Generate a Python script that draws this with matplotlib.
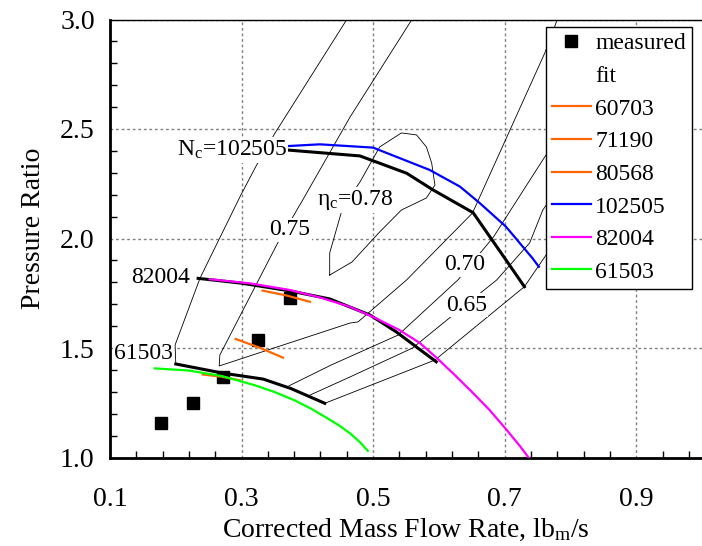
import matplotlib
matplotlib.use("Agg")
import matplotlib.pyplot as plt
from matplotlib.lines import Line2D
from matplotlib.ticker import MultipleLocator, FixedLocator, FormatStrFormatter
import numpy as np

plt.rcParams["font.family"] = "Liberation Serif"
plt.rcParams["mathtext.fontset"] = "custom"
plt.rcParams["mathtext.rm"] = "Liberation Serif"
plt.rcParams["mathtext.it"] = "Liberation Serif:italic"

ORANGE = "#ff6600"
BLUE = "#0000ff"
MAGENTA = "#ff00ff"
GREEN = "#00ff00"

# measured points
meas_flow = [0.178, 0.226, 0.272, 0.325, 0.374]
meas_pr = [1.156, 1.250, 1.369, 1.537, 1.730]

# short measured speed lines
n60703_flow = [0.241, 0.270, 0.298]
n60703_pr = [1.379, 1.369, 1.352]
n71190_flow = [0.291, 0.327, 0.363]
n71190_pr = [1.541, 1.502, 1.456]
n80568_flow = [0.332, 0.368, 0.404]
n80568_pr = [1.762, 1.740, 1.711]

# map speed lines
n102505_flow = [0.370, 0.419, 0.500, 0.586, 0.632, 0.662, 0.702, 0.742, 0.752]
n102505_pr = [2.422, 2.430, 2.415, 2.313, 2.237, 2.162, 2.054, 1.911, 1.871]
n82004_flow = [0.252, 0.313, 0.373, 0.419, 0.464, 0.502, 0.540, 0.571, 0.597,
               0.624, 0.651, 0.677, 0.703, 0.723, 0.738]
n82004_pr = [1.814, 1.795, 1.765, 1.731, 1.689, 1.639, 1.582, 1.523, 1.454,
             1.377, 1.297, 1.217, 1.126, 1.053, 0.993]
n61503_flow = [0.168, 0.220, 0.270, 0.320, 0.350, 0.380, 0.405, 0.430, 0.450,
               0.465, 0.480, 0.492]
n61503_pr = [1.407, 1.397, 1.372, 1.330, 1.299, 1.262, 1.224, 1.180, 1.143,
             1.110, 1.070, 1.030]

# fitted speed lines
fit102505_flow = [0.370, 0.480, 0.551, 0.591, 0.652, 0.702, 0.730]
fit102505_pr = [2.404, 2.377, 2.298, 2.222, 2.118, 1.902, 1.780]
fit82004_flow = [0.234, 0.300, 0.373, 0.434, 0.495, 0.535, 0.596]
fit82004_pr = [1.818, 1.796, 1.761, 1.724, 1.651, 1.574, 1.437]
fit61503_flow = [0.200, 0.272, 0.333, 0.375, 0.4265]
fit61503_pr = [1.427, 1.385, 1.358, 1.315, 1.2475]

# efficiency contours
eta78_flow = [0.434, 0.468, 0.510, 0.543, 0.581, 0.594, 0.589, 0.581, 0.566, 0.543,
              0.510, 0.480, 0.454, 0.434, 0.434]
eta78_pr = [1.833, 1.893, 2.030, 2.130, 2.185, 2.244, 2.345, 2.418, 2.473, 2.482,
            2.418, 2.258, 2.144, 1.934, 1.833]
eta75_flow = [0.559, 0.465, 0.393, 0.355, 0.267, 0.266, 0.465, 0.477, 0.551, 0.651,
              0.761, 0.780]
eta75_pr = [3.000, 2.555, 2.176, 1.980, 1.468, 1.418, 1.614, 1.619, 1.811, 2.116,
            2.847, 3.000]
eta70_left_flow = [0.200, 0.199, 0.237, 0.299, 0.323, 0.351, 0.460]
eta70_left_pr = [1.427, 1.514, 1.820, 2.199, 2.336, 2.482, 3.000]
eta70_right_flow = [0.372, 0.436, 0.538, 0.629, 0.683, 0.758, 0.808]
eta70_right_pr = [1.327, 1.422, 1.559, 1.811, 2.007, 2.359, 2.587]
eta65_flow = [0.404, 0.465, 0.560, 0.616, 0.688, 0.738, 0.758, 0.799]
eta65_pr = [1.285, 1.368, 1.500, 1.637, 1.811, 1.980, 2.130, 2.310]
edge_flow = [0.4265, 0.594, 0.730, 0.761, 0.798]
edge_pr = [1.2475, 1.445, 1.780, 1.916, 2.080]

fig = plt.figure(figsize=(7.02, 5.46), dpi=100)
ax = fig.add_axes([110 / 702, 88.5 / 546, 592 / 702, 438 / 546])

thin = dict(color="black", linewidth=0.6, zorder=2)
ax.plot(eta78_flow, eta78_pr, **thin)
ax.plot(eta75_flow, eta75_pr, **thin)
ax.plot(eta70_left_flow, eta70_left_pr, **thin)
ax.plot(eta70_right_flow, eta70_right_pr, **thin)
ax.plot(eta65_flow, eta65_pr, **thin)
ax.plot(edge_flow, edge_pr, **thin)

ax.plot(meas_flow, meas_pr, "s", color="black", markersize=8, zorder=3)

fit = dict(color="black", linewidth=2.2, zorder=4)
ax.plot(fit102505_flow, fit102505_pr, **fit)
ax.plot(fit82004_flow, fit82004_pr, **fit)
ax.plot(fit61503_flow, fit61503_pr, **fit)

lw = 1.6
l1, = ax.plot(n60703_flow, n60703_pr, color=ORANGE, lw=lw, zorder=5)
l2, = ax.plot(n71190_flow, n71190_pr, color=ORANGE, lw=lw, zorder=5)
l3, = ax.plot(n80568_flow, n80568_pr, color=ORANGE, lw=lw, zorder=5)
l4, = ax.plot(n102505_flow, n102505_pr, color=BLUE, lw=lw, zorder=5)
l5, = ax.plot(n82004_flow, n82004_pr, color=MAGENTA, lw=lw, zorder=5)
l6, = ax.plot(n61503_flow, n61503_pr, color=GREEN, lw=lw, zorder=5)

# contour / speed labels
box = dict(facecolor="white", edgecolor="none", pad=1)
ax.text(0.369, 2.404, r"N$_\mathrm{c}$=102505", fontsize=17, ha="right", va="center", bbox=box, zorder=6)
ax.text(0.2215, 1.820, "82004", fontsize=17, ha="right", va="center", bbox=box, zorder=6)
ax.text(0.1957, 1.477, "61503", fontsize=17, ha="right", va="center", bbox=box, zorder=6)
ax.text(0.3733, 2.039, "0.75", fontsize=17, ha="center", va="center", bbox=box, zorder=3)
ax.text(0.4721, 2.176, r"η$_\mathrm{c}$=0.78", fontsize=17, ha="center", va="center", bbox=box, zorder=3)
ax.text(0.639, 1.879, "0.70", fontsize=17, ha="center", va="center", bbox=box, zorder=3)
ax.text(0.642, 1.696, "0.65", fontsize=17, ha="center", va="center", bbox=box, zorder=3)

ax.set_xlim(0.1, 1.0)
ax.set_ylim(1.0, 3.0)
ax.xaxis.set_major_locator(FixedLocator([0.1, 0.3, 0.5, 0.7, 0.9]))
ax.xaxis.set_minor_locator(FixedLocator(np.arange(0.1, 1.0, 0.04)))
ax.yaxis.set_major_locator(MultipleLocator(0.5))
ax.yaxis.set_minor_locator(MultipleLocator(0.1))
ax.xaxis.set_major_formatter(FormatStrFormatter("%.1f"))
ax.yaxis.set_major_formatter(FormatStrFormatter("%.1f"))
ax.tick_params(which="major", length=0, labelsize=20)
ax.tick_params(axis="x", which="major", pad=21.5)
ax.tick_params(axis="y", which="major", pad=11)
ax.tick_params(which="minor", direction="in", length=5, width=1, color="black",
               bottom=True, left=True, top=False, right=False)
ax.grid(True, which="major", color="#808080", linestyle=(0, (2, 2)), linewidth=1)
ax.set_axisbelow(True)

for s in ["left", "bottom"]:
    ax.spines[s].set_linewidth(2)
ax.spines["top"].set_linewidth(1)
ax.spines["right"].set_visible(False)

ax.set_xlabel(r"Corrected Mass Flow Rate, lb$_\mathrm{m}$/s", fontsize=20, labelpad=3)
ax.set_ylabel("Pressure Ratio", fontsize=20)
ax.yaxis.set_label_coords(-0.108, 0.524)

h_meas = Line2D([], [], marker="s", color="black", linestyle="None", markersize=8)
h_fit = Line2D([], [], color="none")
leg = ax.legend([h_meas, h_fit, l1, l2, l3, l4, l5, l6],
                ["measured", "fit", "60703", "71190", "80568", "102505", "82004", "61503"],
                loc="upper right", bbox_to_anchor=(0.983, 0.983), borderaxespad=0,
                fontsize=17, handlelength=1.65, handletextpad=0.2, borderpad=0.25,
                labelspacing=0.47, fancybox=False, framealpha=1, edgecolor="black")
leg.get_frame().set_linewidth(1)
leg.set_zorder(10)

fig.savefig("out.png", dpi=100)
